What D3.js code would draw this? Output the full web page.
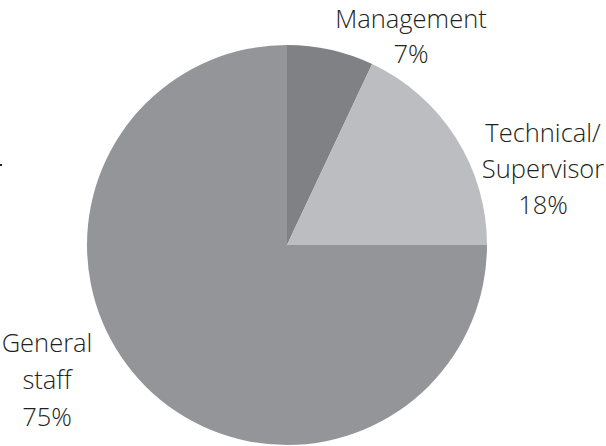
<!DOCTYPE html>
<html>
<head>
<meta charset="utf-8">
<script src="https://cdn.jsdelivr.net/npm/d3@7"></script>
<style>
  html, body { margin: 0; padding: 0; background: #fff; }
  svg { display: block; }
  text { font-family: "Open Sans", "Noto Sans", sans-serif; font-weight: 300; font-size: 25.5px; fill: #231f20; }
</style>
</head>
<body>
<svg id="chart" width="606" height="446"></svg>
<script>
// Staff composition by role (percent)
const categories = ["Management", "Technical/Supervisor", "General staff"];
const values = [7, 18, 75];
const colors = ["#808184", "#bcbdc0", "#939598"];
// Label lines per category
const labelLines = [["Management", "7%"], ["Technical/", "Supervisor", "18%"], ["General", "staff", "75%"]];

const svg = d3.select("#chart");
const cx = 287, cy = 245, r = 200;

const pie = d3.pie().sort(null).value(d => d.value);
const arc = d3.arc().innerRadius(0).outerRadius(r);
const data = categories.map((c, i) => ({ name: c, value: values[i], color: colors[i], lines: labelLines[i] }));

const g = svg.append("g").attr("transform", `translate(${cx},${cy})`);
g.selectAll("path")
  .data(pie(data))
  .join("path")
  .attr("d", arc)
  .attr("fill", d => d.data.color);

// Label anchors (centre x, first baseline y) in page coordinates
const labelPos = [[411, 28], [543, 142], [47, 352]];
const lineGap = [35, 36, 37];
data.forEach((d, i) => {
  const t = svg.append("text")
    .attr("text-anchor", "middle")
    .attr("x", labelPos[i][0])
    .attr("y", labelPos[i][1]);
  d.lines.forEach((ln, j) => {
    t.append("tspan")
      .attr("x", labelPos[i][0])
      .attr("y", labelPos[i][1] + j * lineGap[i])
      .text(ln);
  });
});

// small stray mark at the left edge
svg.append("rect").attr("x", 0).attr("y", 164).attr("width", 2).attr("height", 2).attr("fill", "#231f20");
</script>
</body>
</html>
